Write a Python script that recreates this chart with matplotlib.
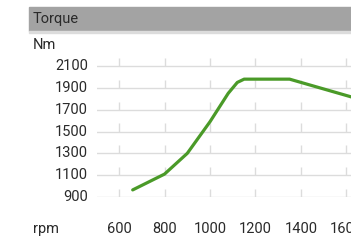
import matplotlib.pyplot as plt
from matplotlib.patches import Rectangle
from matplotlib.transforms import blended_transform_factory

plt.rcParams['font.family'] = ['Roboto', 'DejaVu Sans']

# torque curve
rpm = [660, 800, 900, 1000, 1080, 1120, 1150, 1350, 1800]
torque = [965, 1110, 1300, 1590, 1850, 1950, 1980, 1980, 1710]

x_ticks = [600, 800, 1000, 1200, 1400, 1600]
y_ticks = [900, 1100, 1300, 1500, 1700, 1900, 2100]

fig = plt.figure(figsize=(3.51, 2.40), dpi=100)

# grey header band
fig.patches.append(Rectangle((29 / 351, 1 - 31 / 240), 1, 24 / 240,
                             transform=fig.transFigure, color="#a3a3a3", zorder=0))
fig.patches.append(Rectangle((29 / 351, 1 - 32.5 / 240), 1, 1.5 / 240,
                             transform=fig.transFigure, color="#dcdcdc", zorder=0))
fig.text(33 / 351, 1 - 19 / 240, "Torque", fontsize=10.5, color="#2a2a2a", va="center")
fig.text(33 / 351, 1 - 45 / 240, "Nm", fontsize=10.5, color="#2a2a2a", va="center")
fig.text(33 / 351, 1 - 229 / 240, "rpm", fontsize=10.5, color="#2a2a2a", va="center")

ax = fig.add_axes([97 / 351, 1 - 197 / 240, 254 / 351, 140 / 240])
ax.set_xlim(503, 1620)
ax.set_ylim(900, 2183)

# grid: horizontal lines with short ticks above them
for y in y_ticks:
    ax.axhline(y, color="#dcdcdc", lw=1, zorder=1)
    ax.vlines(x_ticks, y, y + 75, color="#dcdcdc", lw=1, zorder=1)

ax.plot(rpm, torque, color="#4a9a28", lw=2.3, solid_capstyle="round",
        solid_joinstyle="round", zorder=3)

x_trans = blended_transform_factory(ax.transData, fig.transFigure)
y_trans = blended_transform_factory(fig.transFigure, ax.transData)
for x in x_ticks:
    ax.text(x, 1 - 229 / 240, str(x), transform=x_trans, clip_on=False,
            ha="center", va="center", fontsize=10.5, color="#2a2a2a")
for y in y_ticks:
    ax.text(88 / 351, y, str(y), transform=y_trans, clip_on=False,
            ha="right", va="center", fontsize=10.5, color="#2a2a2a")

ax.axis("off")

fig.savefig("out.png", dpi=100)
